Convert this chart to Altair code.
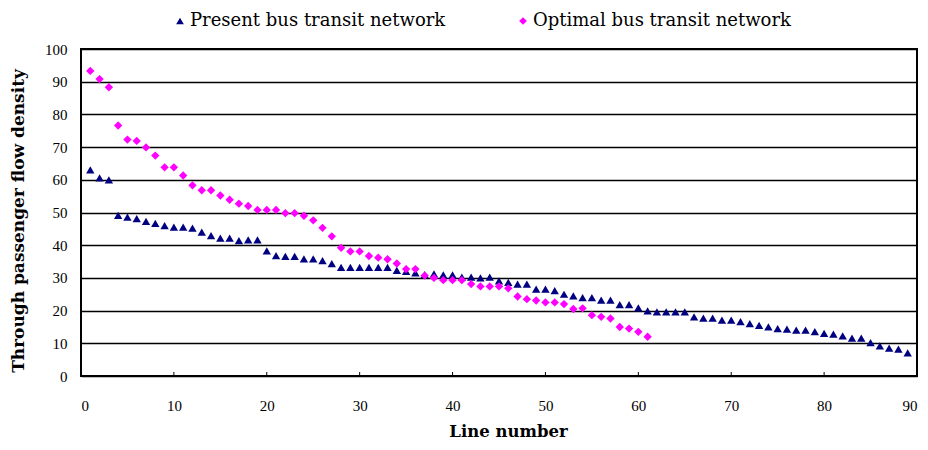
import altair as alt
import pandas as pd

series_names = ["Present bus transit network", "Optimal bus transit network"]

present = [63, 60.6, 60, 49.1, 48.6, 48.1, 47.3, 46.7, 46, 45.5,
           45.5, 45.2, 44, 42.9, 42.2, 42.2, 41.4, 41.6, 41.6, 38.3,
           36.8, 36.6, 36.6, 35.8, 35.8, 35.3, 34.4, 33.2, 33.2, 33.2,
           33.2, 33.2, 33.2, 32.3, 32, 31.5, 31, 31.2, 30.9, 30.9,
           30.2, 30.2, 30, 30.2, 29.1, 28.6, 28.1, 28.1, 26.6, 26.6,
           26.1, 25, 24.5, 24, 24, 23.2, 23.2, 21.8, 21.8, 20.8,
           19.9, 19.6, 19.6, 19.6, 19.6, 18.1, 17.7, 17.7, 17.1, 17.1,
           16.6, 16, 15.5, 15, 14.5, 14.3, 14, 14, 13.6, 13,
           12.8, 12.3, 11.6, 11.6, 10.2, 9.2, 8.5, 8.2, 7.1]

optimal = [93.3, 90.8, 88.3, 76.6, 72.3, 71.9, 69.9, 67.4, 63.8, 63.8,
           61.3, 58.3, 56.8, 56.8, 55.2, 53.9, 52.7, 52, 50.8, 50.8,
           50.8, 49.8, 49.8, 49, 47.6, 45.3, 42.7, 39.2, 38.1, 38.1,
           36.7, 36.2, 35.7, 34.4, 32.7, 32.7, 30.7, 30, 29.3, 29.3,
           29.3, 28.1, 27.4, 27.4, 27.4, 26.8, 24.3, 23.5, 23.1, 22.5,
           22.5, 22, 20.5, 20.7, 18.6, 18.1, 17.6, 15, 14.5, 13.5,
           12]

x_ticks = list(range(0, 91, 10))
y_ticks = list(range(0, 101, 10))

rows = []
for i, v in enumerate(present):
    rows.append({"line": i + 1, "density": v, "series": series_names[0]})
for i, v in enumerate(optimal):
    rows.append({"line": i + 1, "density": v, "series": series_names[1]})
df = pd.DataFrame(rows)
tick_df = pd.DataFrame({"t": x_ticks})

W, H = 836, 327
LABEL_FONT = "Liberation Sans Narrow"
SERIF = "DejaVu Serif"

legend = alt.Legend(
    title=None, orient="none", direction="horizontal",
    legendX=90, legendY=-37, labelFont=SERIF, labelFontSize=18,
    labelColor="black", labelLimit=500, symbolSize=60, columnPadding=68,
    labelOffset=1, symbolStrokeWidth=0,
)

x_scale = alt.Scale(domain=[0, 90], nice=False)

points = alt.Chart(df).mark_point(filled=True, size=70, opacity=1).encode(
    x=alt.X("line:Q", scale=x_scale,
            axis=alt.Axis(values=x_ticks, title="Line number", grid=False,
                          ticks=False, domain=False, labelPadding=22,
                          labelFont=LABEL_FONT, labelFontSize=15,
                          labelColor="black", titleFont=SERIF,
                          titleFontSize=16.5, titleFontWeight="bold",
                          titleColor="black", titlePadding=10,
                          titleX=W / 2 + 9)),
    y=alt.Y("density:Q", scale=alt.Scale(domain=[0, 100], nice=False),
            axis=alt.Axis(values=y_ticks, title="Through passenger flow density",
                          grid=True, gridColor="black", gridWidth=1.5,
                          gridOpacity=1, ticks=False, domain=False,
                          labelPadding=14, labelFont=LABEL_FONT,
                          labelFontSize=15, labelColor="black",
                          titleFont=SERIF, titleFontSize=17,
                          titleFontWeight="bold", titleColor="black",
                          titlePadding=17, titleY=H / 2 + 8)),
    color=alt.Color("series:N",
                    scale=alt.Scale(domain=series_names, range=["#000080", "#FF00FF"]),
                    legend=legend),
    shape=alt.Shape("series:N",
                    scale=alt.Scale(domain=series_names, range=["triangle-up", "diamond"]),
                    legend=legend),
)

ticks = alt.Chart(tick_df).mark_rule(color="black", strokeWidth=1).encode(
    x=alt.X("t:Q", scale=x_scale),
    y=alt.value(H - 4),
    y2=alt.value(H),
)

chart = alt.layer(ticks, points).properties(
    width=W, height=H,
    autosize=alt.AutoSizeParams(type="none"),
    padding={"left": 73, "top": 41, "right": 3, "bottom": 66},
    background="white",
).configure_view(stroke="black", strokeWidth=2)

chart.save("out.html", embed_options={"renderer": "svg", "actions": False})
